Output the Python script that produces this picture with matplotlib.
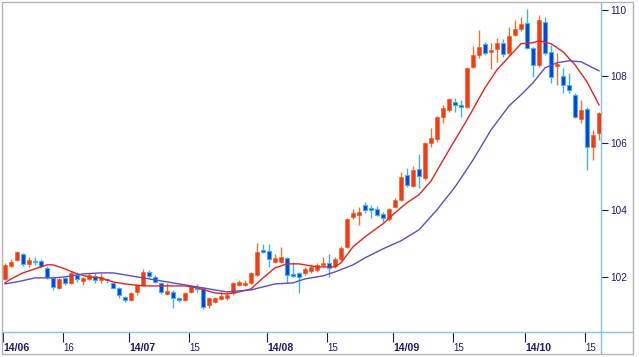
import numpy as np
import pandas as pd
import matplotlib
matplotlib.use("Agg")
import matplotlib.pyplot as plt
from matplotlib.lines import Line2D
from matplotlib.patches import Rectangle

# daily candles, 2014-06-02 .. 2014-10-17 (weekdays)
dates = pd.bdate_range("2014-06-02", "2014-10-17")

opens = [101.94, 102.33, 102.51, 102.69, 102.39, 102.48, 102.48, 102.27, 101.97, 101.67,
         101.97, 101.82, 102.06, 101.88, 101.94, 102.03, 101.91, 101.94, 101.82, 101.67,
         101.40, 101.31, 101.55, 101.76, 102.15, 102.00, 101.82, 101.49, 101.55, 101.37,
         101.31, 101.55, 101.67, 101.67, 101.16, 101.25, 101.34, 101.37, 101.52, 101.76,
         101.76, 101.82, 102.06, 102.81, 102.78, 102.45, 102.45, 102.57, 102.09, 102.12,
         102.12, 102.18, 102.21, 102.36, 102.42, 102.33, 102.54, 102.90, 103.80, 103.86,
         104.16, 104.07, 104.04, 103.89, 103.74, 104.10, 104.31, 105.05, 104.72, 105.23,
         104.96, 106.01, 106.13, 106.79, 107.00, 107.24, 107.15, 107.09, 108.29, 108.65,
         108.98, 108.74, 108.83, 109.01, 108.71, 109.25, 109.43, 109.60, 108.86, 108.35,
         109.63, 108.74, 108.32, 108.02, 107.75, 107.45, 106.73, 107.03, 105.89, 106.31]
highs = [102.42, 102.54, 102.78, 102.72, 102.60, 102.60, 102.54, 102.33, 102.03, 101.97,
         102.00, 102.18, 102.15, 102.00, 102.12, 102.12, 102.12, 101.97, 101.85, 101.70,
         101.43, 101.55, 101.79, 102.24, 102.21, 102.06, 101.85, 101.82, 101.61, 101.40,
         101.55, 101.76, 101.79, 101.70, 101.40, 101.40, 101.55, 101.55, 101.85, 101.91,
         101.91, 102.15, 103.02, 102.99, 102.99, 102.69, 102.90, 102.60, 102.45, 102.15,
         102.30, 102.36, 102.42, 102.60, 102.69, 102.60, 102.93, 103.77, 104.04, 104.10,
         104.25, 104.16, 104.13, 103.95, 104.07, 104.37, 105.14, 105.26, 105.32, 105.68,
         106.04, 106.46, 106.82, 107.15, 107.36, 107.36, 107.30, 108.29, 108.92, 109.40,
         109.04, 109.01, 109.16, 109.13, 109.49, 109.69, 109.78, 110.02, 108.89, 109.84,
         109.78, 108.95, 108.71, 108.26, 108.11, 107.51, 107.30, 107.09, 106.40, 106.94]
lows = [101.91, 102.30, 102.48, 102.33, 102.30, 102.36, 102.27, 101.94, 101.61, 101.64,
        101.76, 101.79, 101.85, 101.76, 101.91, 101.82, 101.82, 101.82, 101.64, 101.37,
        101.25, 101.28, 101.46, 101.73, 101.97, 101.82, 101.49, 101.46, 101.07, 101.25,
        101.28, 101.52, 101.55, 101.04, 101.07, 101.22, 101.31, 101.31, 101.46, 101.73,
        101.73, 101.79, 102.03, 102.72, 102.30, 102.42, 102.42, 101.82, 102.00, 101.52,
        102.06, 102.12, 102.15, 102.33, 102.00, 102.27, 102.48, 102.87, 103.74, 103.56,
        103.92, 103.77, 103.83, 103.65, 103.68, 104.07, 104.28, 104.69, 104.69, 104.66,
        104.90, 105.89, 106.04, 106.61, 106.94, 106.94, 106.79, 107.06, 108.26, 108.56,
        108.65, 108.23, 108.44, 108.59, 108.65, 109.22, 109.36, 108.83, 107.99, 108.29,
        108.65, 107.81, 107.75, 107.51, 107.51, 106.76, 106.61, 105.20, 105.50, 106.10]
closes = [102.36, 102.45, 102.75, 102.39, 102.51, 102.45, 102.33, 102.00, 101.70, 101.94,
          101.82, 102.12, 101.94, 101.97, 102.06, 101.91, 102.00, 101.91, 101.67, 101.46,
          101.31, 101.52, 101.76, 102.15, 102.03, 101.85, 101.55, 101.58, 101.37, 101.31,
          101.52, 101.70, 101.64, 101.10, 101.37, 101.37, 101.43, 101.46, 101.82, 101.85,
          101.82, 102.12, 102.75, 102.75, 102.54, 102.57, 102.60, 102.06, 102.03, 102.00,
          102.24, 102.30, 102.36, 102.42, 102.27, 102.54, 102.87, 103.74, 103.92, 103.95,
          104.01, 104.01, 103.86, 103.77, 104.04, 104.31, 104.99, 104.75, 105.20, 105.02,
          106.01, 106.16, 106.79, 107.06, 107.33, 107.15, 107.09, 108.26, 108.65, 108.89,
          108.71, 108.80, 109.01, 108.68, 109.22, 109.43, 109.57, 108.86, 108.35, 109.69,
          108.71, 107.99, 108.38, 107.75, 107.60, 106.79, 107.00, 105.89, 106.25, 106.91]

# moving averages (candle index, value)
ma_fast_idx = [0, 1, 3, 5, 7, 8, 10, 12, 14, 16, 18, 20, 23, 27, 30, 32, 35, 37, 39, 41,
               43, 45, 47, 49, 52, 55, 56, 58, 60, 63, 65, 67, 69, 71, 74, 77, 80, 82, 84,
               86, 88, 89, 91, 93, 95, 97, 99]
ma_fast = [101.82, 101.94, 102.12, 102.24, 102.36, 102.36, 102.24, 102.09, 102.00, 101.97,
           101.85, 101.79, 101.73, 101.73, 101.73, 101.67, 101.52, 101.49, 101.55, 101.64,
           101.97, 102.27, 102.39, 102.39, 102.30, 102.30, 102.42, 102.90, 103.20, 103.59,
           103.92, 104.22, 104.46, 104.87, 105.80, 106.70, 107.66, 108.20, 108.59, 108.98,
           109.01, 109.07, 108.98, 108.74, 108.35, 107.84, 107.15]
ma_slow_idx = [0, 2, 5, 8, 10, 13, 16, 18, 22, 25, 28, 31, 33, 35, 37, 41, 43, 45, 48, 50,
               53, 55, 58, 60, 63, 66, 69, 72, 75, 78, 81, 84, 86, 88, 90, 92, 94, 96, 99]
ma_slow = [101.79, 101.85, 101.97, 101.97, 102.00, 102.09, 102.12, 102.12, 102.00, 101.91,
           101.82, 101.73, 101.67, 101.61, 101.55, 101.61, 101.70, 101.79, 101.82, 101.94,
           102.03, 102.15, 102.36, 102.57, 102.84, 103.08, 103.41, 104.01, 104.69, 105.50,
           106.40, 107.12, 107.45, 107.81, 108.26, 108.41, 108.47, 108.44, 108.17]

y_ticks = [102, 104, 106, 108, 110]

W, H = 639, 357
navy = "#1c1c6e"
axis_blue = "#7fc6e4"

plt.rcParams["font.family"] = ["Liberation Sans", "DejaVu Sans"]
fig = plt.figure(figsize=(W / 100, H / 100), dpi=100)
fig.patch.set_facecolor("white")
ax = fig.add_axes([2 / W, 1 - 332 / H, (601 - 2) / W, (332 - 2) / H])

x = np.arange(len(closes))
o = np.array(opens)
c = np.array(closes)
hi = np.array(highs)
lo = np.array(lows)
up = c >= o

# wicks
ax.vlines(x[up], lo[up], hi[up], color="#e8762c", lw=1.0, zorder=2)
ax.vlines(x[~up], lo[~up], hi[~up], color="#3db4e6", lw=1.0, zorder=2)

# bodies
bottom = np.minimum(o, c)
height = np.maximum(np.abs(c - o), 0.035)
ax.bar(x[up], height[up], bottom=bottom[up], width=0.62,
       color="#f23c16", edgecolor="#f0561e", lw=0.4, zorder=3)
ax.bar(x[~up], height[~up], bottom=bottom[~up], width=0.62,
       color="#0b3fe0", edgecolor="#45b2ea", lw=0.8, zorder=3)

# moving averages
ax.plot(ma_fast_idx, ma_fast, color="#e8231e", lw=1.0, zorder=4)
ax.plot(ma_slow_idx, ma_slow, color="#5a4fc4", lw=1.0, zorder=4)

ax.set_xlim(-0.5, 99.33)
ax.set_ylim(100.35, 110.23)

# y axis on the right
ax.yaxis.tick_right()
ax.set_yticks(y_ticks)
ax.set_yticklabels([str(v) for v in y_ticks])
ax.tick_params(axis="y", direction="out", length=5, width=0.8, color=navy,
               labelcolor=navy, labelsize=7.2, pad=2)

# x ticks: first trading day of month and mid-month
pos, labs, bold = [], [], []
for m in sorted(set(dates.month)):
    md = dates[dates.month == m]
    i0 = dates.get_loc(md[0])
    pos.append(i0 - 0.35); labs.append(md[0].strftime("%y/%m")); bold.append(True)
    mid = md[md.day >= 15]
    if len(mid):
        i1 = dates.get_loc(mid[0])
        pos.append(i1 - 0.35); labs.append(str(mid[0].day)); bold.append(False)
ax.set_xticks(pos)
ax.set_xticklabels(labs)
for t, b in zip(ax.get_xticklabels(), bold):
    t.set_ha("left")
    t.set_color(navy)
    if b:
        t.set_fontweight("bold")
        t.set_fontsize(7.6)
    else:
        t.set_fontsize(7.0)
ax.tick_params(axis="x", direction="out", length=7, width=0.8, color=navy, pad=1)

for s in ["left", "top"]:
    ax.spines[s].set_visible(False)
ax.spines["right"].set_color(axis_blue)
ax.spines["bottom"].set_color(axis_blue)
ax.spines["right"].set_linewidth(1.0)
ax.spines["bottom"].set_linewidth(1.0)

# extensions of axis lines and outer frame
fig.add_artist(Line2D([601 / W, 632 / W], [1 - 332 / H, 1 - 332 / H],
                      color=axis_blue, lw=1.0, transform=fig.transFigure))
fig.add_artist(Line2D([601 / W, 601 / W], [1 - 332 / H, 1 - 353 / H],
                      color=axis_blue, lw=1.0, transform=fig.transFigure))
fig.add_artist(Rectangle((1.5 / W, 1 - 353.5 / H), 631 / W, 352 / H, fill=False,
                         edgecolor="#b4b4b4", lw=1.0, transform=fig.transFigure))

fig.savefig("out.png", dpi=100)
